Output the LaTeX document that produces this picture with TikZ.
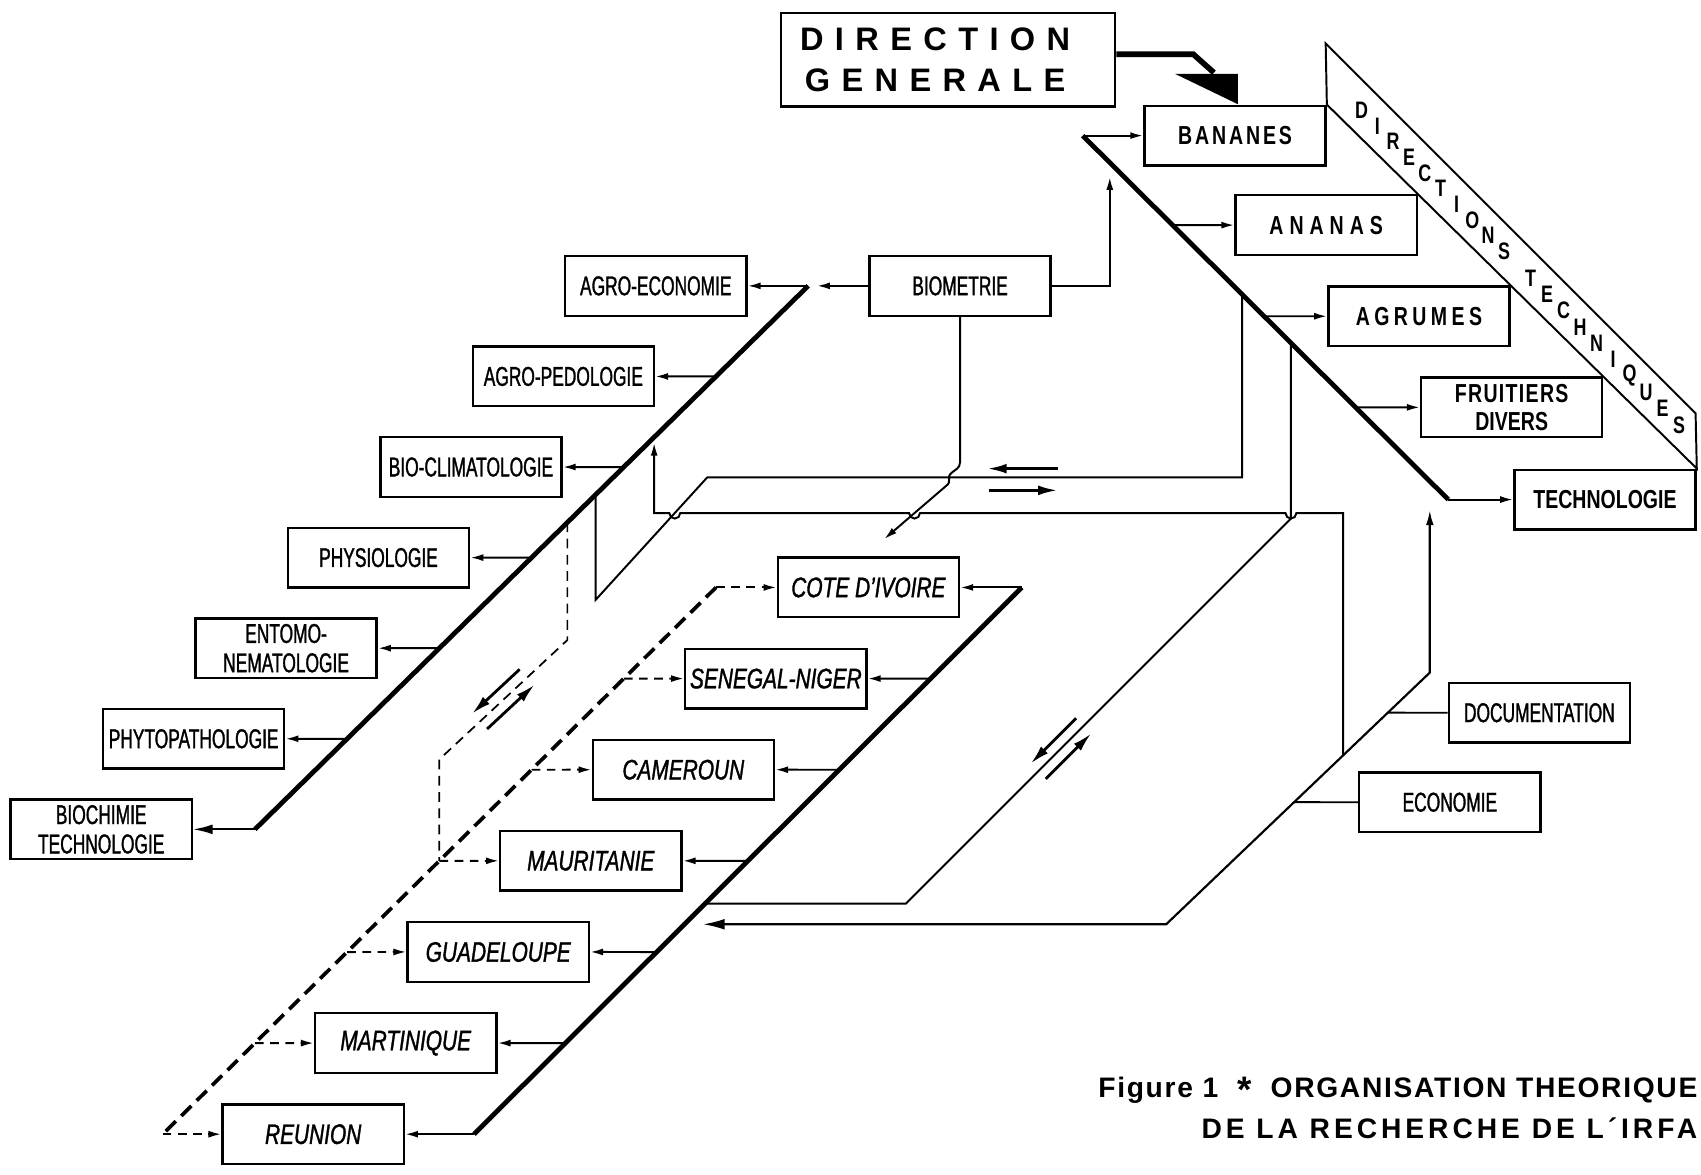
\documentclass[tikz,border=0pt]{standalone}
\usepackage{fontspec}
\setmainfont{Liberation Sans}
\newfontfamily\labfont[FakeStretch=0.64, FakeBold=1.2]{Liberation Sans}
\newfontfamily\ctyfont[FakeStretch=0.74, FakeBold=1.2]{Liberation Sans}
\newfontfamily\dirfont[FakeStretch=0.75]{Liberation Sans}
\newfontfamily\dgfont[LetterSpace=35]{Liberation Sans}
\newfontfamily\capfont[LetterSpace=6]{Liberation Sans}
\usetikzlibrary{arrows.meta}

\tikzset{
  box/.style={draw, line width=1.1pt, minimum width=83.5pt, minimum height=27.5pt, inner sep=1pt, align=center},
  lab/.style={box, font=\labfont\fontsize{12.5}{13.5}\selectfont},
  cty/.style={box, font=\ctyfont\itshape\fontsize{13}{14}\selectfont},
  dir/.style={box, font=\dirfont\bfseries\fontsize{12}{13}\selectfont},
  stripletter/.style={font=\dirfont\bfseries\fontsize{11}{11}\selectfont, inner sep=0pt},
  bus/.style={line width=2.2pt},
  wire/.style={line width=0.9pt},
  arr/.style={wire, -{Latex[length=6pt,width=3.2pt]}},
  bigarr/.style={wire, -{Latex[length=9pt,width=4.5pt]}},
  pairarr/.style={line width=1.3pt, -{Latex[length=9pt,width=4.5pt]}},
  dashbus/.style={line width=1.7pt, dash pattern=on 6.5pt off 3.5pt},
  dasharr/.style={line width=0.9pt, dash pattern=on 4pt off 3pt, -{Latex[length=6pt,width=3.2pt]}},
  dashwire/.style={line width=0.8pt, dash pattern=on 4.5pt off 3pt},
}

\begin{document}
\begin{tikzpicture}[x=0.5pt, y=-0.5pt]
  \useasboundingbox (0,0) rectangle (1568,1083);

  % direction generale and the technical directions
  \node[box, minimum width=154pt, minimum height=43pt, font=\dgfont\bfseries\fontsize{15}{19}\selectfont] (dg) at (874,55) {DIRECTION\hspace*{0.8em}\\GENERALE\hspace*{0.8em}};
  \node[dir] (ban) at (1138.5,125) {\addfontfeature{LetterSpace=11}BANANES};
  \node[dir] (ana) at (1222.5,207.5) {\addfontfeature{LetterSpace=23}ANANAS};
  \node[dir] (agr) at (1308,291.5) {\addfontfeature{LetterSpace=17}AGRUMES};
  \node[dir] (fru) at (1393.5,375.5) {\addfontfeature{LetterSpace=5}FRUITIERS\\DIVERS};
  \node[dir] (tec) at (1479.5,460.5) {TECHNOLOGIE};

  % laboratories
  \foreach \n/\t [count=\i from 0] in {agroeco/AGRO-ECONOMIE, agroped/AGRO-PEDOLOGIE, bioclim/BIO-CLIMATOLOGIE, physio/PHYSIOLOGIE, entomo/{ENTOMO-\\NEMATOLOGIE}, phyto/PHYTOPATHOLOGIE, biochim/{BIOCHIMIE\\TECHNOLOGIE}}
    \node[lab] (\n) at ({604.5-85.2*\i},{263.5+83.5*\i}) {\t};
  \node[lab] (biom) at (885,263.5) {BIOMETRIE};
  \node[lab] (doc) at (1419,657) {DOCUMENTATION};
  \node[lab] (eco) at (1336.5,739.5) {ECONOMIE};

  % stations
  \foreach \n/\t [count=\i from 0] in {cote/COTE D’IVOIRE, seneg/SENEGAL-NIGER, camer/CAMEROUN, maurit/MAURITANIE, guad/GUADELOUPE, martin/MARTINIQUE, reun/REUNION}
    \node[cty] (\n) at ({800.5-85.3*\i},{541.5+84*\i}) {\t};

  \coordinate (ltop) at (745,263.5);
  \coordinate (lbot) at (235,764.5);
  \coordinate (rtop) at (998,125);
  \coordinate (rbot) at (1335,460.5);
  \coordinate (ctop) at (942,541.5);
  \coordinate (cbot) at (437,1045.5);
  \coordinate (dtop) at (660,541.5);
  \coordinate (dbot) at (150,1045.5);
  \coordinate (etop) at (1318,620);
  \coordinate (ebot) at (1075,852);

  % bolt from the direction
  \draw[line width=2.6pt, line join=miter] ([yshift=2.5pt]dg.east) -- (1100,50) -- (1119,67);
  \fill (1083,68) -- (1141,68) -- (1141,96) -- cycle;

  % band of the technical directions
  \coordinate (apex) at (1222,40);
  \coordinate (scorner) at (1563,381);
  \draw[wire] (ban.north east) -- (apex) -- (scorner) -- (tec.north east) -- cycle;
  \foreach \l [count=\i from 0] in {D,I,R,E,C,T,I,O,N,S}
    \node[stripletter] (d\i) at ({1255+14.6*\i},{68.75+(33+14.6*\i)*0.9916}) {\l};
  \foreach \l [count=\i from 0] in {T,E,C,H,N,I,Q,U,E,S}
    \node[stripletter] (t\i) at ({1411+15.2*\i},{68.75+(189+15.2*\i)*0.9916}) {\l};

  % buses
  \draw[bus] (rtop) -- (rbot);
  \draw[arr] (rtop) -- (rtop -| ban.west);
  \foreach \n in {ana,agr,fru}
    \draw[arr] (intersection of rtop--rbot and \n.west--\n.east) -- (\n.west);
  \draw[arr] (rbot) -- (rbot -| tec.west);

  \draw[bus] (ltop) -- (lbot);
  \draw[arr] (ltop) -- (ltop -| agroeco.east);
  \foreach \n in {agroped,bioclim,physio,entomo,phyto}
    \draw[arr] (intersection of ltop--lbot and \n.west--\n.east) -- (\n.east);
  \draw[bigarr] (lbot) -- (lbot -| biochim.east);

  \draw[bus] (ctop) -- (cbot);
  \draw[arr] (ctop) -- (ctop -| cote.east);
  \foreach \n in {seneg,camer,maurit,guad,martin}
    \draw[arr] (intersection of ctop--cbot and \n.west--\n.east) -- (\n.east);
  \draw[arr] (cbot) -- (cbot -| reun.east);

  \draw[dashbus] (dtop) -- (dbot);
  \draw[dasharr] (dtop) -- (dtop -| cote.west);
  \foreach \n in {seneg,camer,maurit,guad,martin}
    \draw[dasharr] (intersection of dtop--dbot and \n.west--\n.east) -- (\n.west);
  \draw[dasharr] (dbot) -- (dbot -| reun.west);

  % biometrie
  \coordinate (bstop) at (753,263.5);
  \coordinate (bup) at (1023,163);
  \coordinate (bdown) at (815,497);
  \draw[arr] (biom) -- (bstop);
  \draw[arr] (biom) -| (bup);
  \draw[arr] (biom.south) -- (885,426) .. controls (885,432) and (880,433) .. (877,436) .. controls (872,440) and (878,444) .. (872,448) -- (bdown);

  % links between the buses
  \coordinate (aL) at (549,456);
  \coordinate (aR) at (1145,271);
  \draw[wire] (aL) -- (549,553) -- (652,440) -- (1145,440) -- (aR);

  \coordinate (bL) at (603,408);
  \coordinate (bR) at (1238,696);
  \draw[arr] (bR) -- (1238,473) -- (1195,473) arc[start angle=0, end angle=180, radius=5]
    -- (848,473) arc[start angle=0, end angle=180, radius=5]
    -- (627,473) arc[start angle=0, end angle=180, radius=5] -- (603,473) -- (bL);

  \coordinate (cR) at (1190,316);
  \coordinate (cL) at (650,833);
  \draw[wire] (cR) -- (1190,478) -- (835,833) -- (cL);

  \coordinate (eup) at (1318,470);
  \coordinate (eleft) at (648,852);
  \draw[line width=1pt, {Latex[length=7pt,width=3.5pt]}-{Latex[length=10pt,width=5pt]}] (eup) -- (etop) -- (ebot) -- (eleft);
  \draw[wire] (intersection of etop--ebot and doc.west--doc.east) -- (doc.west);
  \draw[wire] (intersection of etop--ebot and eco.west--eco.east) -- (eco.west);

  \coordinate (tdtop) at (523,481.5);
  \coordinate (tdbot) at (405,793.5);
  \draw[dashwire] (tdtop) -- (523,590) -- (405,700) -- (tdbot);

  % two-way arrows
  \foreach \xa/\ya/\xb/\yb in {975/432/910/432, 912/452/975/452, 479/617/435/658, 449/672/493/631, 992/662/950/704, 964/718/1006/676}
    \draw[pairarr] (\xa,\ya) -- (\xb,\yb);

  \node[anchor=north east, align=right, inner sep=0pt, font=\capfont\bfseries\fontsize{13}{19}\selectfont] (caption) at (1565,992) {Figure 1 \ \raisebox{-0.4ex}{\fontsize{17}{17}\selectfont *}\ \ ORGANISATION THEORIQUE\\{\addfontfeature{LetterSpace=14}DE LA RECHERCHE DE L´IRFA}};
\end{tikzpicture}
\end{document}
